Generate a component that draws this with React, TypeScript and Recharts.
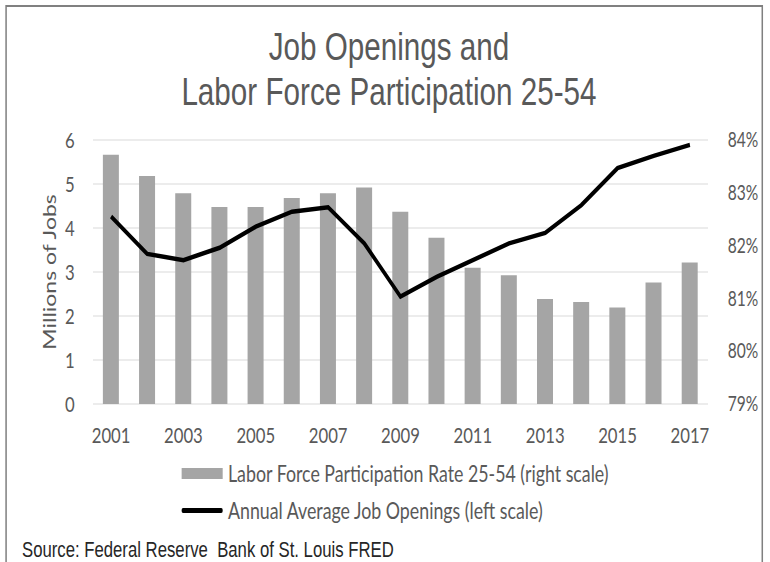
import { ComposedChart, Bar, Line, XAxis, YAxis, CartesianGrid } from 'recharts';

const years = ['2001', '2002', '2003', '2004', '2005', '2006', '2007', '2008', '2009',
  '2010', '2011', '2012', '2013', '2014', '2015', '2016', '2017'];

// Labor force participation rate 25-54, % (right scale)
const lfpr = [83.72, 83.32, 82.99, 82.73, 82.73, 82.9, 82.99, 83.1, 82.64,
  82.15, 81.58, 81.44, 80.99, 80.93, 80.83, 81.3, 81.68];

// annual average job openings, millions (left scale)
const openings = [4.26, 3.41, 3.27, 3.55, 4.03, 4.37, 4.47, 3.65, 2.44,
  2.89, 3.27, 3.65, 3.89, 4.52, 5.36, 5.64, 5.89];

const leftTicks = [0, 1, 2, 3, 4, 5, 6];
const rightTicks = [79, 80, 81, 82, 83, 84];

// the original picture was squeezed sideways, so the whole chart is drawn wide then scaled
const SX = 0.76;
const W = 770 / SX;

const BODY = 'Lato, "Open Sans", sans-serif';
const HEAD = '"Liberation Sans", Arial, sans-serif';
const TEXT = '#595959';
const BAR = '#a5a5a5';

const chartData = years.map((y, i) => ({ year: y, lfpr: lfpr[i], openings: openings[i] }));

export default function App() {
  return (
    <div style={{ position: 'absolute', left: 0, top: 0, width: 770, height: 562, overflow: 'hidden', background: '#fff' }}>
      <div style={{ position: 'absolute', left: 0, top: 0, width: W, height: 562, transform: `scaleX(${SX})`, transformOrigin: '0 0' }}>
        <div style={{ position: 'absolute', left: 5 / SX, top: 5, width: 758 / SX, height: 600, border: '2px solid #808080', boxSizing: 'border-box' }} />
        <div style={{ position: 'absolute', left: 0, top: 24, width: 2 * 389 / SX, textAlign: 'center', fontFamily: HEAD, fontSize: 39, color: TEXT, lineHeight: '45px' }}>
          Job Openings and<br />Labor Force Participation 25-54
        </div>
        <ComposedChart
          width={W}
          height={562}
          data={chartData}
          margin={{ top: 140, right: 0, left: 93 / SX - 70, bottom: 128 }}
          style={{ position: 'absolute', left: 0, top: 0 }}
        >
          <CartesianGrid yAxisId="left" vertical={false} stroke="#d9d9d9" strokeWidth={1.2} />
          <XAxis
            dataKey="year"
            interval={1}
            tickLine={false}
            axisLine={false}
            tickMargin={17}
            height={30}
            tick={{ fill: TEXT, fontSize: 22, fontFamily: BODY }}
          />
          <YAxis
            yAxisId="left"
            domain={[0, 6]}
            ticks={leftTicks}
            width={70}
            tickLine={false}
            axisLine={false}
            tickMargin={18}
            tick={{ fill: TEXT, fontSize: 22, fontFamily: BODY }}
            label={{ value: 'Millions of Jobs', angle: -90, position: 'insideLeft', offset: 13, style: { fill: TEXT, fontSize: 23, fontFamily: BODY, textAnchor: 'middle' } }}
          />
          <YAxis
            yAxisId="right"
            orientation="right"
            domain={[79, 84]}
            ticks={rightTicks}
            width={W - 708 / SX}
            tickLine={false}
            axisLine={false}
            tickMargin={20}
            tickFormatter={v => `${v}%`}
            tick={{ fill: TEXT, fontSize: 20.5, fontFamily: BODY }}
          />
          <Bar yAxisId="right" dataKey="lfpr" fill={BAR} barSize={16 / SX} isAnimationActive={false} />
          <Line
            yAxisId="left"
            type="linear"
            dataKey="openings"
            stroke="#000"
            strokeWidth={4.5}
            dot={false}
            isAnimationActive={false}
          />
        </ComposedChart>

        {/* legend */}
        <div style={{ position: 'absolute', left: 182 / SX, top: 459, fontFamily: BODY, fontSize: 23.4, color: TEXT }}>
          <div style={{ display: 'flex', alignItems: 'center', height: 28 }}>
            <span style={{ width: 41 / SX, height: 11, background: BAR, display: 'inline-block', marginRight: 5 / SX }} />
            Labor Force Participation Rate 25-54 (right scale)
          </div>
          <div style={{ display: 'flex', alignItems: 'center', height: 28, marginTop: 9 }}>
            <span style={{ width: 41 / SX, height: 5, borderRadius: 2, background: '#000', display: 'inline-block', marginRight: 5 / SX }} />
            Annual Average Job Openings (left scale)
          </div>
        </div>

        <div style={{ position: 'absolute', left: 22 / SX, top: 537, fontFamily: HEAD, fontSize: 22, color: '#262626', whiteSpace: 'pre' }}>
          Source: Federal Reserve  Bank of St. Louis FRED
        </div>
      </div>
    </div>
  );
}
